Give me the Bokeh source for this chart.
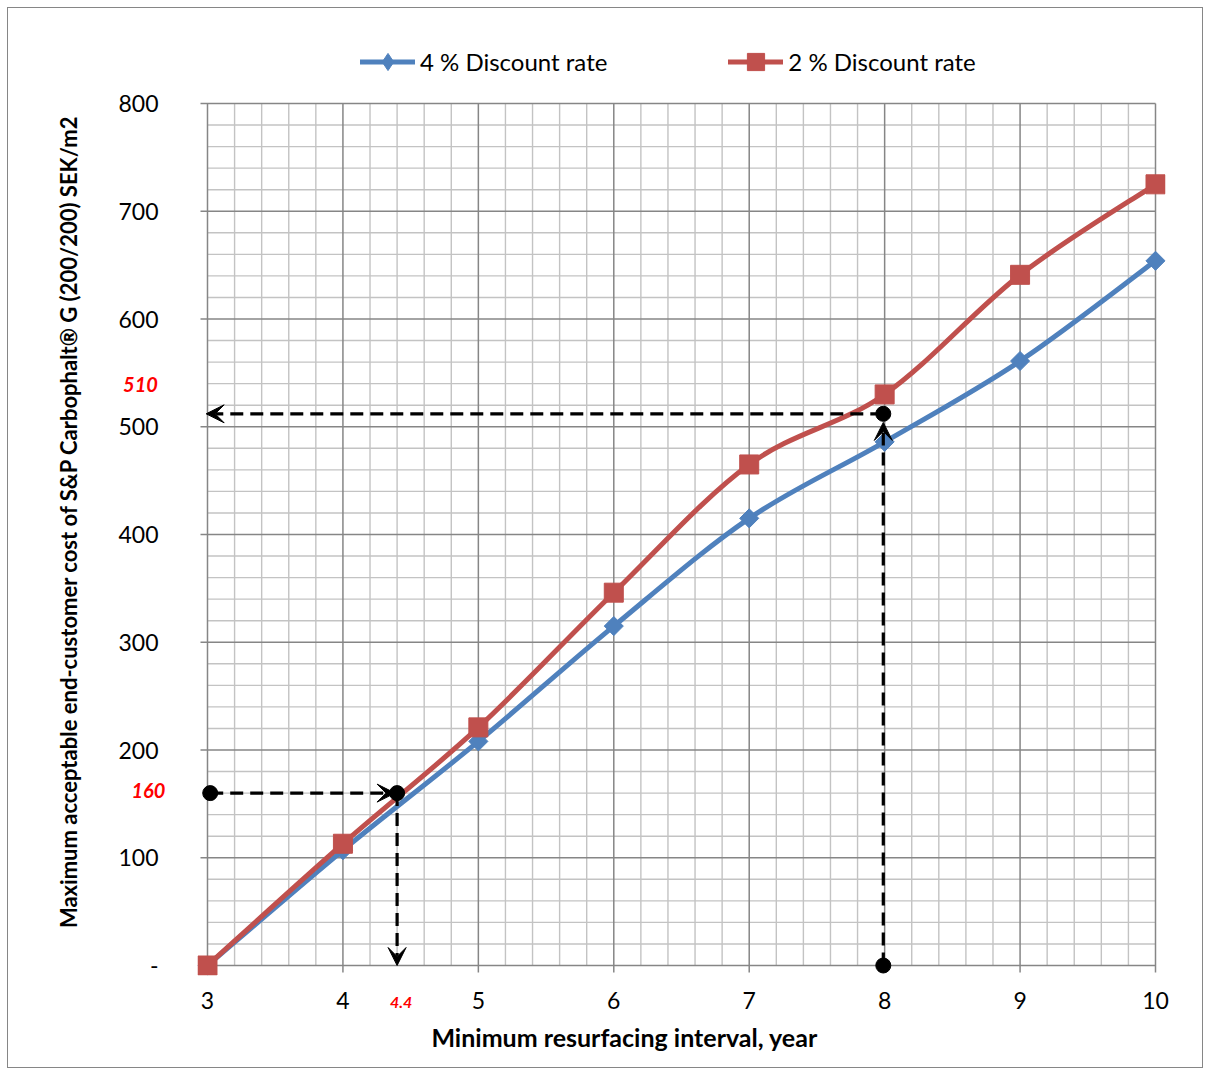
import numpy as np
from math import pi
from bokeh.plotting import figure
from bokeh.models import (Range1d, FixedTicker, Label, Arrow, VeeHead, Legend,
                          LegendItem)
from bokeh.embed import file_html
from bokeh.resources import INLINE

# ---------------- data ----------------
years = [3, 4, 5, 6, 7, 8, 9, 10]
rate_4pct = [0, 107, 208, 315, 415, 486, 561, 654]
rate_2pct = [0, 113, 221, 346, 465, 530, 641, 725]
series_labels = ["4 % Discount rate", "2 % Discount rate"]

x_ticks = [3, 4, 5, 6, 7, 8, 9, 10]
y_ticks = [0, 100, 200, 300, 400, 500, 600, 700, 800]
y_tick_text = ["-", "100", "200", "300", "400", "500", "600", "700", "800"]

x_title = "Minimum resurfacing interval, year"
y_title = "Maximum acceptable end-customer cost of S&P Carbophalt\u00ae G (200/200) SEK/m2"

# read-off example points (interval, cost)
read_interval = [4.4, 7.99]
read_cost = [160, 512]
read_start_x = 3.02
read_texts = ["4.4", "160", "510"]

# ---------------- style ----------------
FONT = "Lato"
BLUE = "#4F81BD"
RED = "#C0504D"
MAJOR = "#868686"
MINOR = "#C3C3C3"

X0, X1, Y0, Y1 = 3, 10, 0, 800
PX_X = 135.43
PX_Y = 1.0775
PAD = 10
TOP_ROOM = 73       # px of frame above the 800 line (holds the legend)
TICK = 7

p = figure(width=1196, height=1061, title=None,
           x_range=Range1d(X0 - PAD / PX_X, X1 + PAD / PX_X),
           y_range=Range1d(Y0 - PAD / PX_Y, Y1 + TOP_ROOM / PX_Y),
           output_backend="svg", toolbar_location=None,
           min_border_left=189, min_border_right=39,
           min_border_top=22, min_border_bottom=94)
p.outline_line_color = None
p.grid.visible = False
p.margin = (7, 0, 0, 7)
p.styles = {"border": "1px solid #868686"}

# ---------------- grid (from tick values) ----------------
minor_x = [v for v in np.round(np.arange(X0, X1 + 1e-9, 0.2), 2) if abs(v - round(v)) > 1e-6]
minor_y = [v for v in np.arange(Y0, Y1 + 1, 20) if v % 100 != 0]
p.segment(x0=minor_x, y0=Y0, x1=minor_x, y1=Y1, line_color=MINOR, line_width=1.4)
p.segment(x0=X0, y0=minor_y, x1=X1, y1=minor_y, line_color=MINOR, line_width=1.4)
p.segment(x0=x_ticks, y0=Y0 - TICK / PX_Y, x1=x_ticks, y1=Y1, line_color=MAJOR, line_width=1.5)
p.segment(x0=X0 - TICK / PX_X, y0=y_ticks, x1=X1, y1=y_ticks, line_color=MAJOR, line_width=1.5)

# ---------------- axes ----------------
p.xaxis.ticker = FixedTicker(ticks=x_ticks)
p.yaxis.ticker = FixedTicker(ticks=y_ticks)
p.yaxis.major_label_overrides = {t: s for t, s in zip(y_ticks, y_tick_text)}
for ax in (p.xaxis, p.yaxis):
    ax.axis_line_color = None
    ax.major_tick_line_color = None
    ax.minor_tick_line_color = None
    ax.major_tick_in = 0
    ax.major_tick_out = 0
    ax.major_label_text_font = FONT
    ax.major_label_text_font_size = "23px"
    ax.major_label_text_color = "black"
p.yaxis.major_label_standoff = 39
p.xaxis.major_label_standoff = 16


# ---------------- smoothed series ----------------
def smooth(xs, ys, t=1.0 / 6.0):
    n = len(xs)
    out = {k: [] for k in ("x0", "y0", "x1", "y1", "cx0", "cy0", "cx1", "cy1")}
    for i in range(n - 1):
        a = max(i - 1, 0)
        b = min(i + 2, n - 1)
        out["x0"].append(xs[i]); out["y0"].append(ys[i])
        out["x1"].append(xs[i + 1]); out["y1"].append(ys[i + 1])
        out["cx0"].append(xs[i] + (xs[i + 1] - xs[a]) * t)
        out["cy0"].append(ys[i] + (ys[i + 1] - ys[a]) * t)
        out["cx1"].append(xs[i + 1] - (xs[b] - xs[i]) * t)
        out["cy1"].append(ys[i + 1] - (ys[b] - ys[i]) * t)
    return out


blue_line = p.bezier(**smooth(years, rate_4pct), line_color=BLUE, line_width=5, line_cap="round")
blue_pts = p.scatter(years, rate_4pct, marker="square", size=13.5, angle=pi / 4, color=BLUE)
# legend-only diamond (hidden on the plot)
blue_key = p.scatter(years[:1], rate_4pct[:1], marker="diamond", color=BLUE, visible=False)

red_line = p.bezier(**smooth(years, rate_2pct), line_color=RED, line_width=5, line_cap="round")
red_pts = p.scatter(years, rate_2pct, marker="square", size=19, color=RED)

# ---------------- read-off annotations ----------------
p.scatter([read_start_x, read_interval[0], read_interval[1], read_interval[1]],
          [read_cost[0], read_cost[0], 0, read_cost[1]],
          size=15, color="black")


def head():
    return VeeHead(size=18, fill_color="black", line_color="black")


arrow_kw = dict(line_dash="13 7", line_width=3.2, line_color="black")
p.add_layout(Arrow(end=head(), x_start=read_start_x, y_start=read_cost[0],
                   x_end=read_interval[0] - 0.015, y_end=read_cost[0], **arrow_kw))
p.add_layout(Arrow(end=head(), x_start=read_interval[0], y_start=read_cost[0],
                   x_end=read_interval[0], y_end=0, **arrow_kw))
p.add_layout(Arrow(end=head(), x_start=read_interval[1], y_start=0,
                   x_end=read_interval[1], y_end=read_cost[1] - 8, **arrow_kw))
p.add_layout(Arrow(end=head(), x_start=read_interval[1], y_start=read_cost[1],
                   x_end=X0 - 0.01, y_end=read_cost[1], **arrow_kw))

# texts outside the frame live in side panels (positioned by data coordinates)
lab_kw = dict(text_font=FONT, text_font_style="bold italic", text_color="#FF0000",
              text_align="center", text_baseline="middle")
p.add_layout(Label(x=4.43, y=-34.3, text=read_texts[0], text_font_size="16px", **lab_kw), "left")
p.add_layout(Label(x=2.564, y=162.4, text=read_texts[1], text_font_size="20px", **lab_kw), "left")
p.add_layout(Label(x=2.505, y=539.2, text=read_texts[2], text_font_size="20px", **lab_kw), "right")

# axis titles
p.add_layout(Label(x=6.08, y=-66.8, text=x_title, text_font=FONT, text_font_style="bold",
                   text_font_size="25px", text_color="black",
                   text_align="center", text_baseline="middle"), "below")
p.add_layout(Label(x=1.974, y=412, text=y_title, angle=pi / 2, text_font=FONT,
                   text_font_style="bold", text_font_size="22px", text_color="black",
                   text_align="center", text_baseline="middle"), "left")

# ---------------- legend (inside the frame's top room) ----------------
legend = Legend(items=[LegendItem(label=series_labels[0], renderers=[blue_line, blue_key]),
                       LegendItem(label=series_labels[1], renderers=[red_line, red_pts])],
                orientation="horizontal", location=(163, 892), padding=0, margin=0,
                spacing=121, glyph_width=55, glyph_height=43, label_standoff=5,
                label_text_font=FONT, label_text_font_size="24px",
                label_text_color="black", border_line_color=None,
                background_fill_alpha=0)
p.add_layout(legend)

open("out.html", "w").write(file_html(p, INLINE))
